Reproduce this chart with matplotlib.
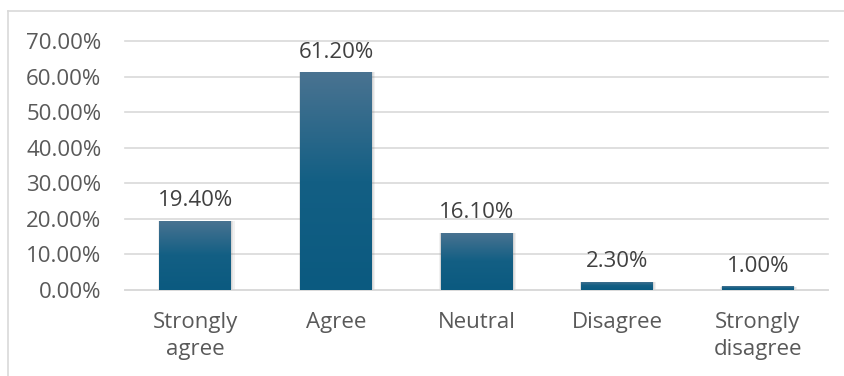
import matplotlib
matplotlib.use("Agg")
import matplotlib.pyplot as plt
import numpy as np
from matplotlib.colors import LinearSegmentedColormap
from matplotlib.patches import Rectangle
from matplotlib.lines import Line2D

categories = ["Strongly\nagree", "Agree", "Neutral", "Disagree", "Strongly\ndisagree"]
values = [19.4, 61.2, 16.1, 2.3, 1.0]
yticks = [0, 10, 20, 30, 40, 50, 60, 70]

TICK = "#595959"; LABEL = "#404040"; GRID = "#d9d9d9"
plt.rcParams["font.family"] = ["Open Sans", "DejaVu Sans"]

W, H = 845, 376
fig = plt.figure(figsize=(W / 100, H / 100), dpi=100)
ax = fig.add_axes([125 / W, 1 - 290 / H, (828 - 125) / W, (290 - 41) / H])

x = np.arange(len(categories))
w = 0.51
cmap = LinearSegmentedColormap.from_list("g", ["#0b5a80", "#135f84", "#4a7391"])
grad = np.linspace(0, 1, 256).reshape(-1, 1)

for xi, v in zip(x, values):
    # soft shadow
    for k, a in ((0.9, 0.10), (0.55, 0.12), (0.3, 0.15)):
        ax.add_patch(Rectangle((xi - w / 2 - 0.012 * k, -0.35 * k), w + 0.04 * k, v + 0.3 * k,
                               fc="#7f7f7f", ec="none", alpha=a, zorder=2))
    bar = ax.bar(xi, v, w, color="none", zorder=3)[0]
    im = ax.imshow(grad, cmap=cmap, aspect="auto", origin="lower",
                   extent=[xi - w / 2, xi + w / 2, 0, v], zorder=3)
    im.set_clip_path(bar)
    ax.annotate(f"{v:.2f}%", (xi, v), xytext=(0, 7), textcoords="offset points",
                ha="center", va="bottom", color=LABEL, fontsize=16)

ax.set_xlim(-0.5, len(categories) - 0.5)
ax.set_ylim(0, 70)
ax.set_yticks(yticks)
ax.set_yticklabels([f"{t:.2f}%" for t in yticks])
ax.set_xticks(x)
ax.set_xticklabels(categories, linespacing=1.35)
ax.tick_params(axis="both", length=0, colors=TICK, labelsize=16)
ax.tick_params(axis="y", pad=17)
ax.tick_params(axis="x", pad=16)
ax.grid(True, axis="y", color=GRID, lw=1.2)
ax.set_axisbelow(True)
for s in ("top", "right", "left"):
    ax.spines[s].set_visible(False)
ax.spines["bottom"].set_color(GRID)
ax.spines["bottom"].set_linewidth(1.2)
for l in ax.get_ygridlines():
    l.set_clip_on(False)

# chart border
fig.add_artist(Line2D([8 / W, 8 / W], [0, 1 - 11 / H], color=GRID, lw=1.2))
fig.add_artist(Line2D([8 / W, 1], [1 - 11 / H, 1 - 11 / H], color=GRID, lw=1.2))

fig.savefig("out.png", dpi=100)
